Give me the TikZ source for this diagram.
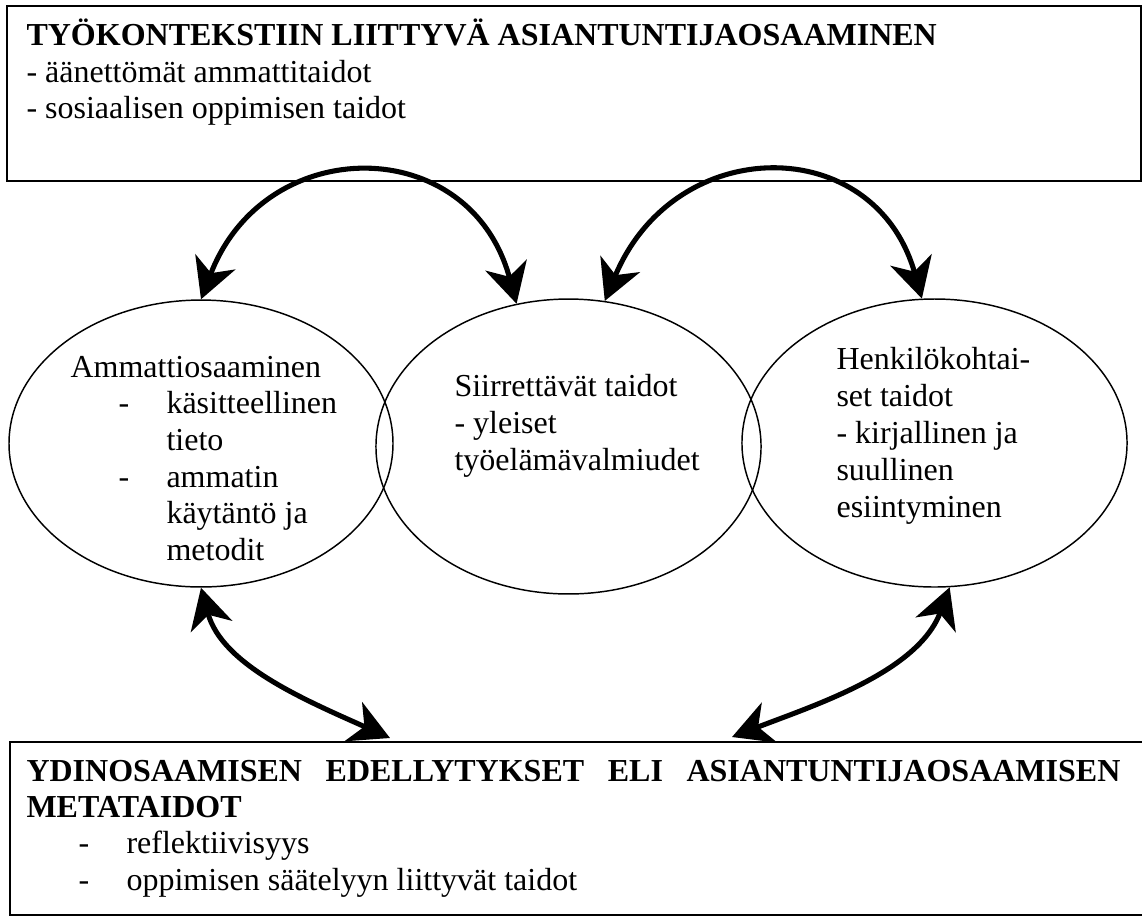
\documentclass[tikz,border=0pt]{standalone}
\usepackage{fontspec}
\setmainfont{Liberation Serif}
\usetikzlibrary{arrows.meta,shapes.geometric}
\begin{document}
\begin{tikzpicture}[x=0.375pt,y=-0.375pt,
  txt/.style={anchor=base west,inner sep=0pt,font=\fontsize{12}{13.8}\selectfont},
  head/.style={anchor=base west,inner sep=0pt,font=\fontsize{12}{13.8}\selectfont\bfseries},
  frame/.style={draw,rectangle,line width=0.75pt,anchor=north west,inner sep=0pt},
  oval/.style={ellipse,draw,line width=0.55pt,inner sep=0pt},
  link/.style={line width=1.9pt,{Stealth[length=15pt,width=16pt,inset=4.5pt]}-{Stealth[length=15pt,width=16pt,inset=4.5pt]}}]
\fill[white] (0,0) rectangle (1142,916);
\useasboundingbox (0,0) rectangle (1142,916);

% upper frame: work-context expertise
\node[frame,minimum width=425.25pt,minimum height=65.625pt] (ctx) at (6,5) {};
\node[head] (ctxh) at (26,45) {TYÖKONTEKSTIIN LIITTYVÄ ASIANTUNTIJAOSAAMINEN};
\node[txt] (ctx1) at (26,82) {- äänettömät ammattitaidot};
\node[txt] (ctx2) at (26,118) {- sosiaalisen oppimisen taidot};

% lower frame: meta skills (runs past the right edge)
\node[frame,minimum width=431.6pt,minimum height=64.9pt] (meta) at (9,741) {};
\node[head] (metah) at (26,781) {\hbox to 410.25pt{YDINOSAAMISEN\hfill EDELLYTYKSET\hfill ELI\hfill ASIANTUNTIJAOSAAMISEN}};
\node[head] (metah2) at (26,817) {METATAIDOT};
\node[txt] (metad1) at (78,853) {-};
\node[txt] (meta1) at (126,853) {reflektiivisyys};
\node[txt] (metad2) at (78,890) {-};
\node[txt] (meta2) at (126,890) {oppimisen säätelyyn liittyvät taidot};

% three overlapping ovals
\node[oval,minimum width=144pt,minimum height=107.6pt] (L) at (201,443.5) {};
\node[oval,minimum width=144.4pt,minimum height=110.6pt] (M) at (568.5,446.5) {};
\node[oval,minimum width=144.4pt,minimum height=108pt] (R) at (934.5,443) {};

% left oval text
\node[txt] (l0) at (70,377) {Ammattiosaaminen};
\node[txt] (ld1) at (118,413) {-};
\node[txt] (l1) at (166,413) {käsitteellinen};
\node[txt] (l2) at (166,450) {tieto};
\node[txt] (ld2) at (118,487) {-};
\node[txt] (l3) at (166,487) {ammatin};
\node[txt] (l4) at (166,523) {käytäntö ja};
\node[txt] (l5) at (166,560) {metodit};

% middle oval text
\node[txt] (m0) at (454,396) {Siirrettävät taidot};
\node[txt] (m1) at (454,433) {- yleiset};
\node[txt] (m2) at (454,470) {työelämävalmiudet};

% right oval text
\node[txt] (r0) at (836,369) {Henkilökohtai-};
\node[txt] (r1) at (836,406) {set taidot};
\node[txt] (r2) at (836,443) {- kirjallinen ja};
\node[txt] (r3) at (836,480) {suullinen};
\node[txt] (r4) at (836,517) {esiintyminen};

% arrow ends on the lower frame
\coordinate (ctxA) at (390,738);
\coordinate (ctxB) at (732,737);

% double-headed curved arrows
\draw[link] (L.north) .. controls (265,132) and (470,132) .. (M.110);
\draw[link] (M.76) .. controls (675,132) and (875,132) .. (R.95);
\draw[link] (L.south) .. controls (222,665) and (305,700) .. (ctxA);
\draw[link] (R.276) .. controls (918,672) and (815,705) .. (ctxB);
\end{tikzpicture}
\end{document}
